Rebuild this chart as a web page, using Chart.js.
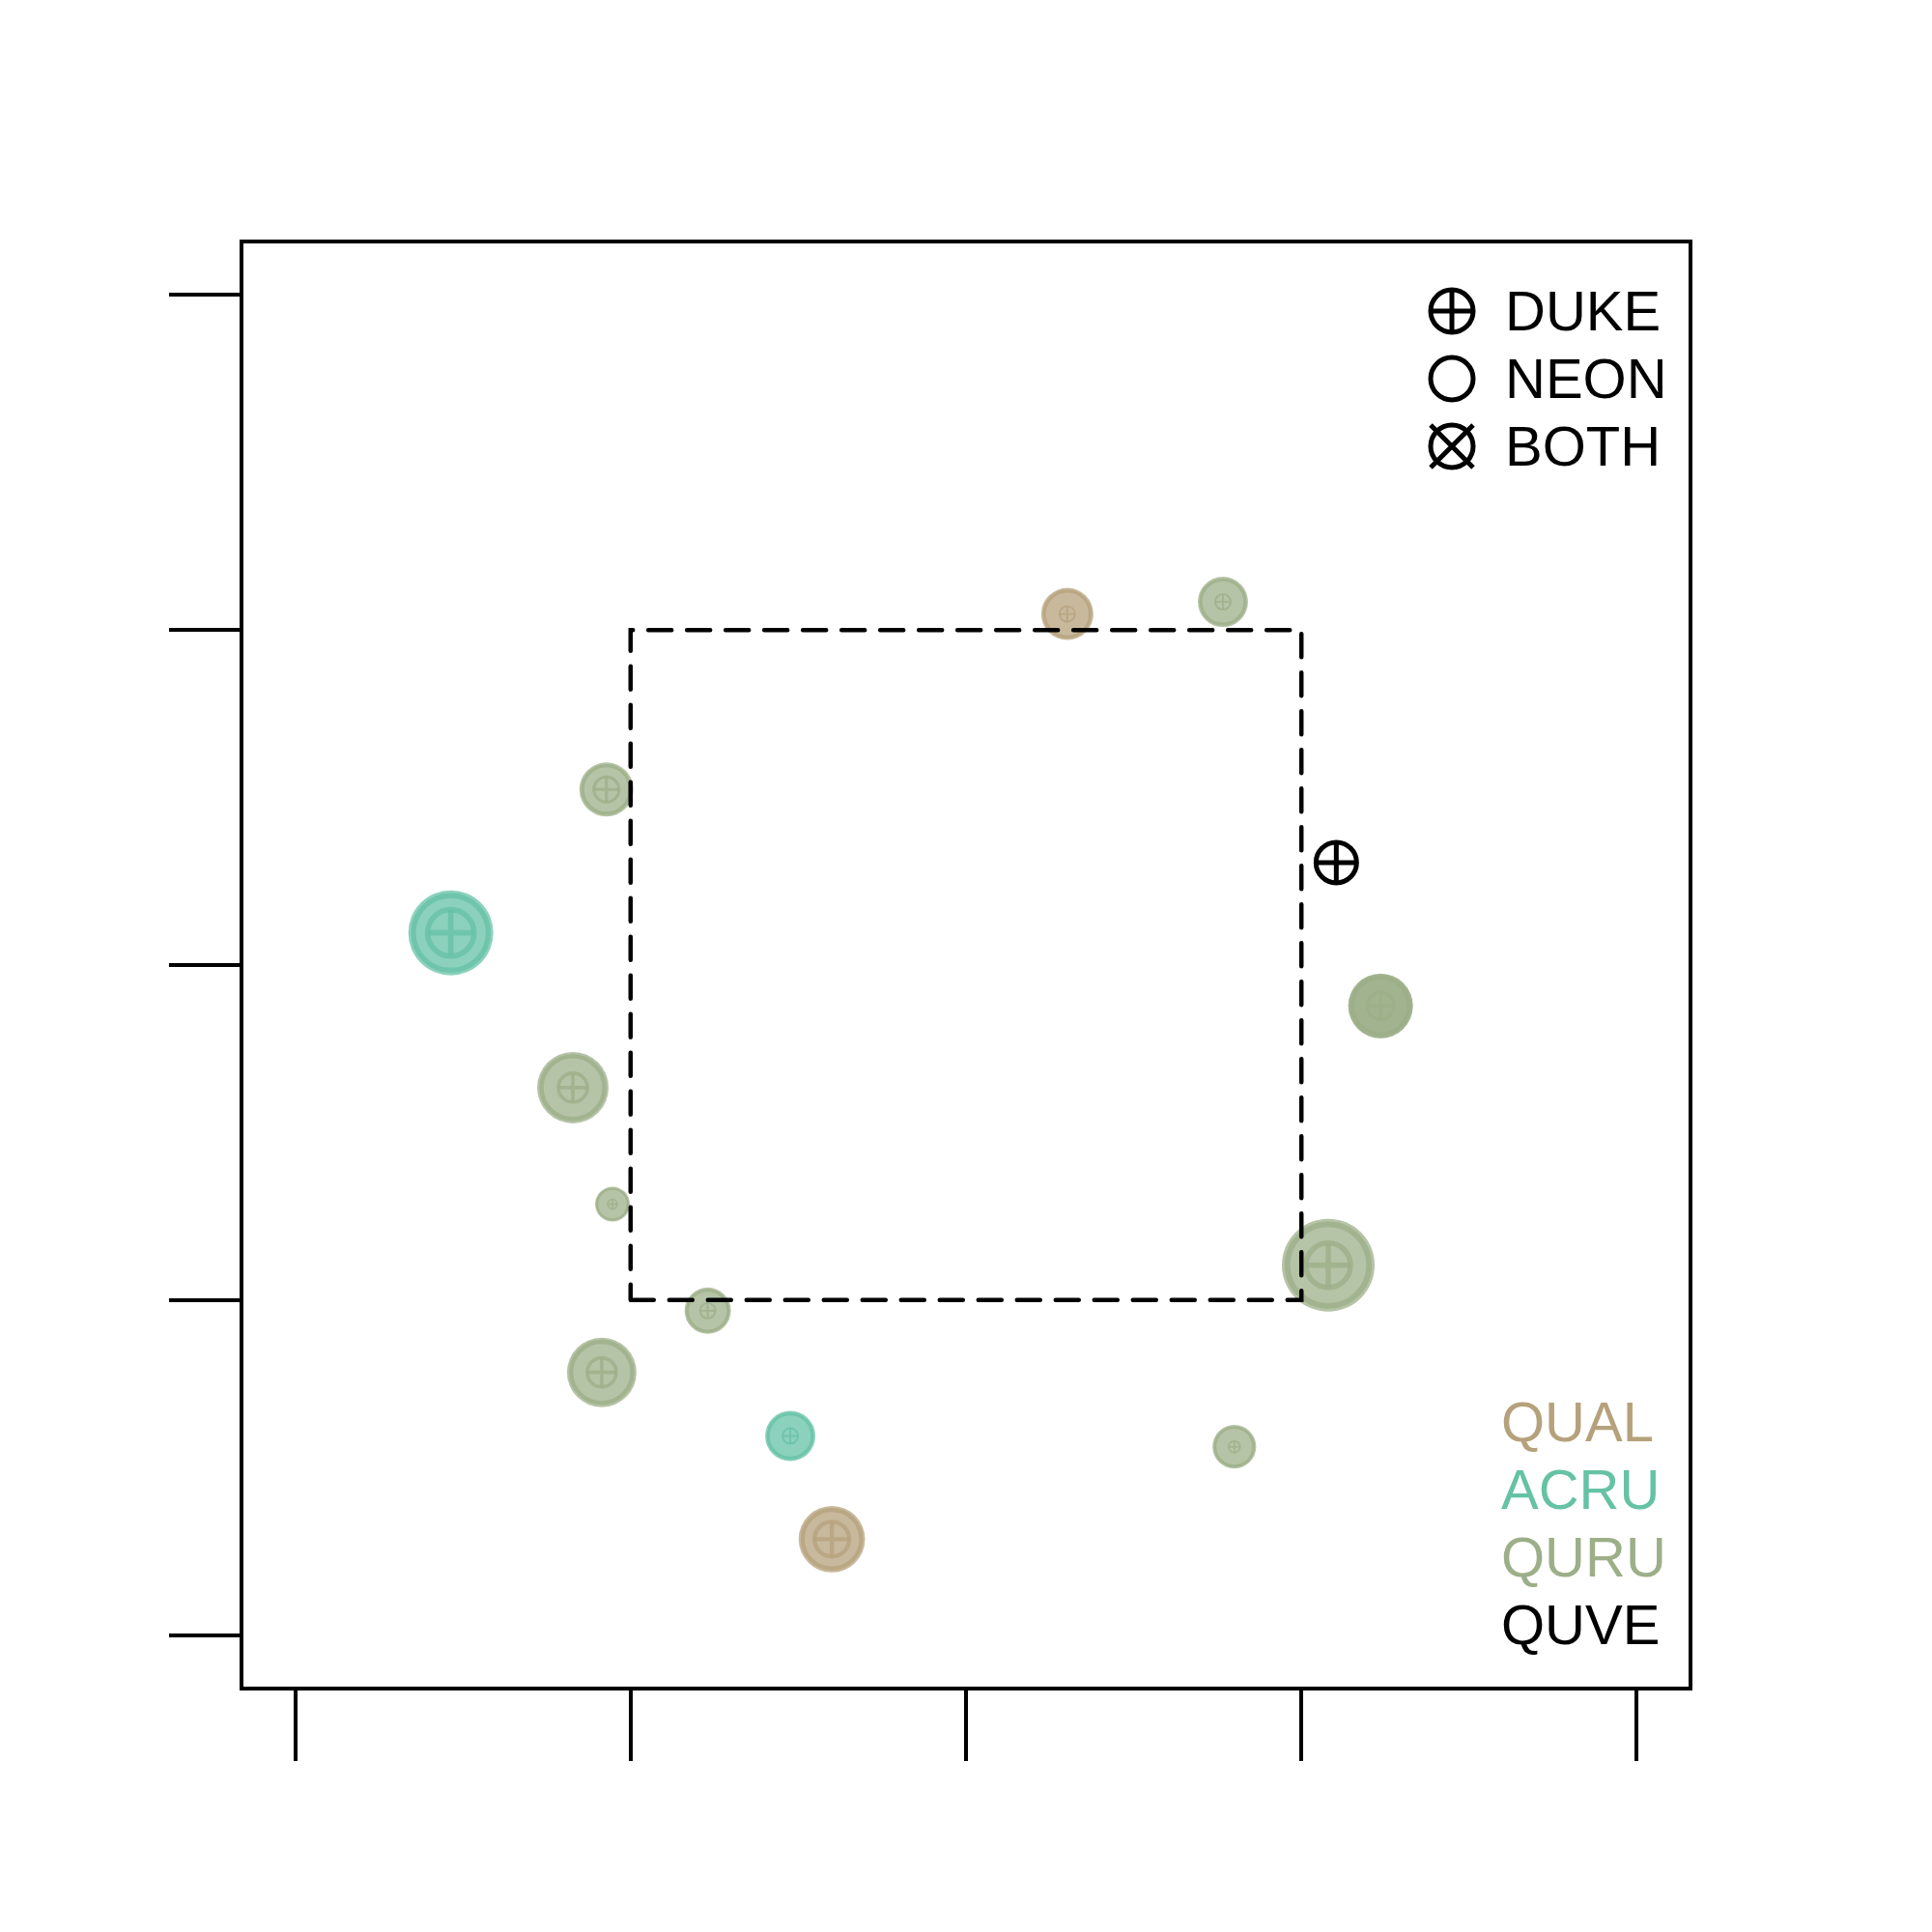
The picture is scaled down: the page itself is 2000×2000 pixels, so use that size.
<!DOCTYPE html>
<html>
<head>
<meta charset="utf-8">
<script src="https://cdn.jsdelivr.net/npm/chart.js@4"></script>
<style>
  html, body { margin: 0; padding: 0; background: white; }
  #wrap { width: 2000px; height: 2000px; }
</style>
</head>
<body>
<div id="wrap"><canvas id="canvas" width="2000" height="2000"></canvas></div>
<script>
// plot data
const species = ['QUAL', 'QURU', 'QURU', 'QUVE', 'ACRU', 'QURU', 'QURU', 'QURU', 'QURU', 'QURU', 'QURU', 'QURU', 'ACRU', 'QURU', 'QUAL'];
const xVals   = [11.51, 13.83, 4.64, 15.52, 2.32, 16.18, 16.18, 4.14, 4.73, 15.40, 6.15, 4.57, 7.38, 14.00, 8.00];
const yVals   = [15.24, 15.42, 12.62, 11.53, 10.48, 9.39, 9.39, 8.17, 6.43, 5.52, 4.84, 3.92, 2.97, 2.81, 1.43];
// stem size (circle) and symbol size
const dbh     = [13.5, 13, 14, 0, 22, 16.7, 16.7, 18.5, 9, 24, 12, 18, 13, 11.3, 17.2];
const symSize = [4, 4, 6.5, 10.5, 12, 7, 0, 7.5, 2.5, 11.5, 4, 7.5, 4, 3, 9];

const tickVals = [0, 5, 10, 15, 20];
const plotBox = [[5, 5], [15, 5], [15, 15], [5, 15], [5, 5]];

const spColors = { QUAL: '#B5A27C', ACRU: '#66C2A5', QURU: '#9CAF88', QUVE: '#000000' };
const spOrder = ['QUAL', 'ACRU', 'QURU', 'QUVE'];
const sites = ['DUKE', 'NEON', 'BOTH'];

function alpha(hex, a) {
  const n = parseInt(hex.slice(1), 16);
  return 'rgba(' + (n >> 16) + ',' + ((n >> 8) & 255) + ',' + (n & 255) + ',' + a + ')';
}

const pts = xVals.map((x, i) => ({ x: x, y: yVals[i] }));
const fillCols = species.map(s => alpha(spColors[s], 0.75));
const symCols = species.map(s => s === 'QUVE' ? '#000000' : alpha(spColors[s], 0.75));
const rad = dbh.map(d => d * 2);
const symRad = symSize.map(s => s * 2);
const symWidth = symRad.map((r, i) => species[i] === 'QUVE' ? 5 : Math.max(1.5, r * 0.24));

const frame = {
  id: 'frame',
  afterDraw(chart) {
    const { ctx, chartArea: a } = chart;
    ctx.save();
    ctx.lineWidth = 4;
    ctx.strokeStyle = '#000';
    ctx.strokeRect(a.left, a.top, a.right - a.left, a.bottom - a.top);

    // legends
    ctx.font = '58px "Liberation Sans", Arial, sans-serif';
    ctx.textBaseline = 'alphabetic';
    ctx.fillStyle = '#000';
    ctx.lineWidth = 5;
    sites.forEach((s, i) => {
      const cx = 1503, cy = 322 + i * 70, r = 22;
      ctx.beginPath();
      ctx.arc(cx, cy, r, 0, Math.PI * 2);
      if (i === 0) {
        ctx.moveTo(cx - r, cy); ctx.lineTo(cx + r, cy);
        ctx.moveTo(cx, cy - r); ctx.lineTo(cx, cy + r);
      }
      if (i === 2) {
        ctx.moveTo(cx - r, cy - r); ctx.lineTo(cx + r, cy + r);
        ctx.moveTo(cx + r, cy - r); ctx.lineTo(cx - r, cy + r);
      }
      ctx.stroke();
      ctx.fillText(s, 1558, 342 + i * 70);
    });
    spOrder.forEach((s, i) => {
      ctx.fillStyle = spColors[s];
      ctx.fillText(s, 1554, 1492 + i * 70);
    });
    ctx.restore();
  }
};

const axisCommon = {
  type: 'linear',
  min: -0.8,
  max: 20.8,
  afterBuildTicks: scale => { scale.ticks = tickVals.map(v => ({ value: v })); },
  ticks: { display: false },
  grid: { drawOnChartArea: false, drawTicks: true, tickLength: 75, color: '#000', lineWidth: 4 },
  border: { display: true, color: '#000', width: 4 }
};

new Chart(document.getElementById('canvas').getContext('2d'), {
  type: 'scatter',
  data: {
    datasets: [
      {
        type: 'line',
        data: plotBox.map(p => ({ x: p[0], y: p[1] })),
        borderColor: '#000',
        borderWidth: 4.5,
        borderDash: [24, 16],
        borderCapStyle: 'round',
        pointRadius: 0,
        fill: false,
        tension: 0,
        order: 0
      },
      {
        data: pts,
        pointStyle: 'cross',
        pointRadius: symRad,
        borderColor: symCols,
        borderWidth: symWidth,
        backgroundColor: 'rgba(0,0,0,0)',
        order: 1
      },
      {
        data: pts,
        pointStyle: 'circle',
        pointRadius: symRad,
        borderColor: symCols,
        borderWidth: symWidth,
        backgroundColor: 'rgba(0,0,0,0)',
        order: 2
      },
      {
        data: pts,
        pointStyle: 'circle',
        pointRadius: rad.map(r => r * 0.88),
        borderColor: fillCols,
        borderWidth: rad.map(r => Math.max(2, r * 0.12)),
        backgroundColor: 'rgba(0,0,0,0)',
        order: 3
      },
      {
        data: pts,
        pointStyle: 'circle',
        pointRadius: rad,
        borderWidth: 0,
        backgroundColor: fillCols,
        order: 4
      }
    ]
  },
  options: {
    responsive: false,
    animation: false,
    events: [],
    layout: { padding: { top: 250, right: 250, left: 0, bottom: 0 } },
    plugins: { legend: { display: false }, tooltip: { enabled: false } },
    scales: {
      x: Object.assign({}, axisCommon, { position: 'bottom', afterFit: s => { s.height = 252; } }),
      y: Object.assign({}, axisCommon, { position: 'left', afterFit: s => { s.width = 250; } })
    }
  },
  plugins: [frame]
});
</script>
</body>
</html>
